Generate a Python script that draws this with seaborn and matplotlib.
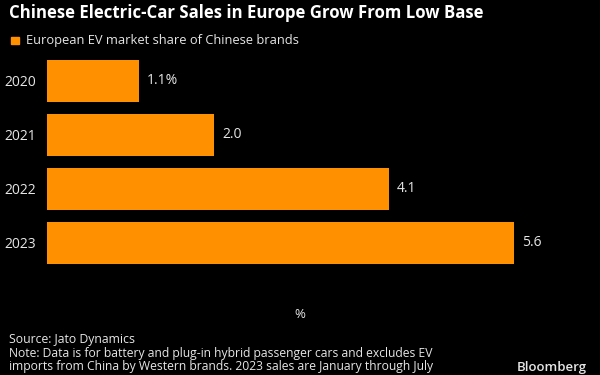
import matplotlib
matplotlib.use("Agg")
import matplotlib.pyplot as plt
import seaborn as sns
import pandas as pd
from matplotlib.patches import Rectangle

years = ["2020", "2021", "2022", "2023"]
share = [1.1, 2.0, 4.1, 5.6]
value_labels = ["1.1%", "2.0", "4.1", "5.6"]

title = "Chinese Electric-Car Sales in Europe Grow From Low Base"
legend_label = "European EV market share of Chinese brands"
source = "Source: Jato Dynamics"
note = ("Note: Data is for battery and plug-in hybrid passenger cars and excludes EV\n"
        "imports from China by Western brands. 2023 sales are January through July")

sns.set_theme(style="dark")
plt.rcParams['font.family'] = ['Open Sans', 'DejaVu Sans']

bg = "#000000"
orange = "#ff9100"
txt = "#e6e6e6"

df = pd.DataFrame({"year": years, "share": share})

fig = plt.figure(figsize=(6, 3.75), dpi=100, facecolor=bg)
ax = fig.add_axes([0.078, 0.28, 0.844, 0.576])
ax.set_facecolor(bg)

sns.barplot(data=df, x="share", y="year", color=orange, width=0.76,
            saturation=1, ax=ax, edgecolor="none")

for i, (v, lab) in enumerate(zip(share, value_labels)):
    ax.text(v + 0.1, i, lab, color=txt, va="center", ha="left", fontsize=10)

ax.set_xlim(0, 6.07)
ax.set_ylim(3.5, -0.5)
ax.set_xticks([])
ax.set_ylabel("")
ax.set_xlabel("%", color=txt, fontsize=9.5, labelpad=27)
ax.tick_params(axis="y", colors=txt, labelsize=10, length=0, pad=8)
for s in ax.spines.values():
    s.set_visible(False)

fig.text(0.015, 0.965, title, color="white", fontsize=12.1, fontweight="bold",
         ha="left", va="center")
fig.patches.append(Rectangle((0.019, 0.883), 0.0125, 0.019, transform=fig.transFigure,
                             color=orange))
fig.text(0.043, 0.893, legend_label, color=txt, fontsize=9.3, ha="left", va="center")

fig.text(0.015, 0.096, source, color=txt, fontsize=8.8, ha="left", va="center")
fig.text(0.015, 0.04, note, color=txt, fontsize=8.7, ha="left", va="center",
         linespacing=1.05)
fig.text(0.978, 0.021, "Bloomberg", color=txt, fontsize=9.5, fontweight="semibold",
         ha="right", va="center")

fig.savefig("out.png", dpi=100, facecolor=bg)
